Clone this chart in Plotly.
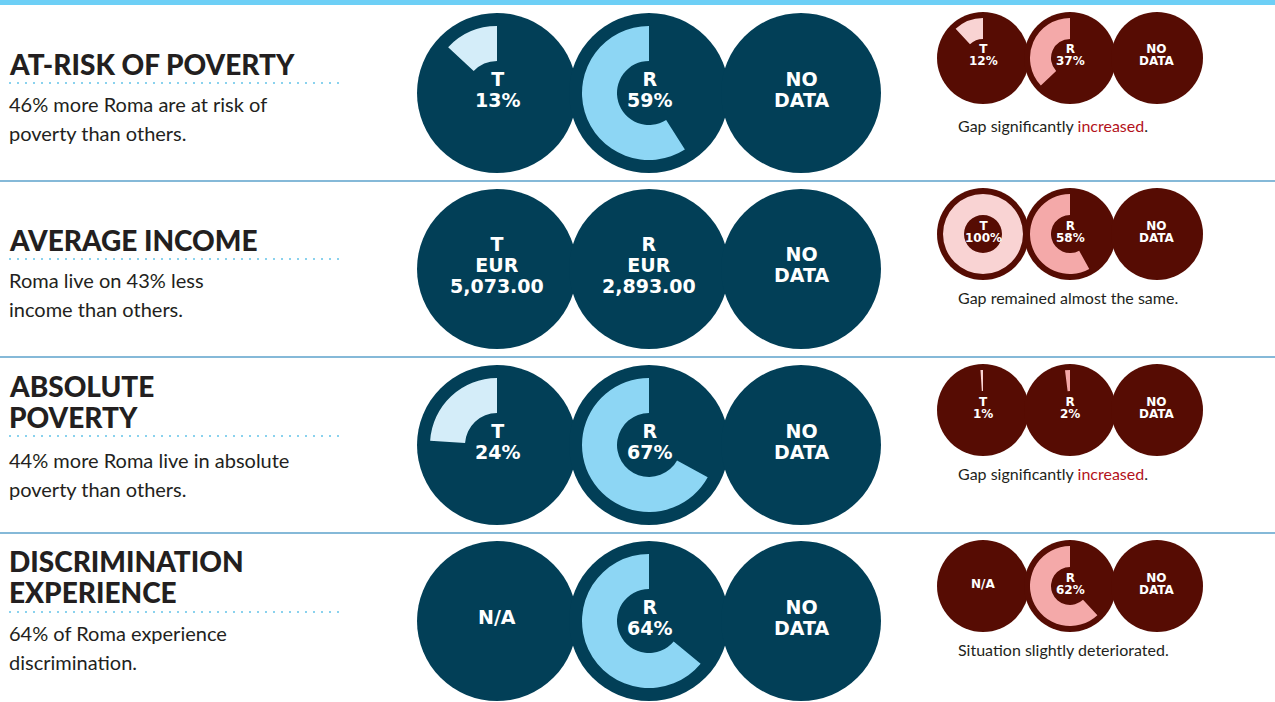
import plotly.graph_objects as go

W, H = 1275, 702

# ---- content -------------------------------------------------------------
indicators = ["AT-RISK OF POVERTY", "AVERAGE INCOME", "ABSOLUTE\nPOVERTY",
              "DISCRIMINATION\nEXPERIENCE"]
descriptions = [
    "46% more Roma are at risk of\npoverty than others.",
    "Roma live on 43% less\nincome than others.",
    "44% more Roma live in absolute\npoverty than others.",
    "64% of Roma experience\ndiscrimination.",
]

# current situation: share (%) for total population (T) and Roma (R)
total_share = [13, None, 24, None]
roma_share = [59, None, 67, 64]
# average yearly income, EUR
total_income = [None, 5073.00, None, None]
roma_income = [None, 2893.00, None, None]

# trend panel: share (%) for T and R
trend_total = [12, 100, 1, None]
trend_roma = [37, 58, 2, 62]
# trend verdict: (plain text, highlighted word, closing text)
trend_notes = [
    ("Gap significantly ", "increased", "."),
    ("Gap remained almost the same.", "", ""),
    ("Gap significantly ", "increased", "."),
    ("Situation slightly deteriorated.", "", ""),
]

# ---- styling -------------------------------------------------------------
NAVY, SKY, ICE = "#023f57", "#8dd6f4", "#d4edf9"
MAROON, ROSE, BLUSH = "#560c03", "#f4a9a9", "#f9d3d3"
RED_TEXT, INK = "#b3121b", "#231f20"
TOPBAR, RULE, DOTS = "#6dcff6", "#85b9d8", "#8ad2ee"

ROW_STEP = 176
BIG = dict(xs=[497, 649, 801], y0=93, r=80, inner=32, outer=67,
           font=19, lh=21, shift=-4)
SMALL = dict(xs=[983, 1070, 1157], y0=58, r=46, inner=19, outer=40,
             font=12, lh=12, shift=-2.5)
TITLE_Y = [64, 240, 417, 592]      # centre of the last title line
DOTS_Y = [83, 259, 436, 612]
DESC_Y = [104, 280, 460, 633]
NOTE_Y = [125, 297, 473, 649]

TEXT_FONT = "Lato"
LABEL_FONT = "DejaVu Sans"
LINE_SPACING = 1.3                 # plotly's line height for <br> text

fig = go.Figure()
annotations = []
shapes = []
polar_count = [0]


def px_x(x):
    return x / W


def px_y(y):
    return 1 - y / H


def add_text(x, y, text, size, color=INK, weight="normal", family=TEXT_FONT,
             xanchor="left"):
    annotations.append(dict(
        x=px_x(x), y=px_y(y), xref="paper", yref="paper", text=text,
        showarrow=False, xanchor=xanchor, yanchor="middle",
        font=dict(family=family, size=size, color=color, weight=weight)))


def circle_label(share, income, letter):
    if share is not None:
        return [letter, f"{share}%"]
    if income is not None:
        return [letter, "EUR", f"{income:,.2f}"]
    return ["N/A"]


def add_circle(spec, cx, cy, bg, arc_color, share, lines):
    polar_count[0] += 1
    k = polar_count[0]
    name = "polar" if k == 1 else f"polar{k}"
    r = spec["r"]
    fig.layout[name] = dict(
        domain=dict(x=[px_x(cx - r), px_x(cx + r)],
                    y=[px_y(cy + r), px_y(cy - r)]),
        bgcolor=bg,
        angularaxis=dict(visible=False, rotation=90,
                         direction="counterclockwise", showgrid=False,
                         showline=False, showticklabels=False, ticks=""),
        radialaxis=dict(visible=False, range=[0, r], showgrid=False,
                        showline=False, showticklabels=False, ticks=""),
    )
    value = share if share is not None else 0
    fig.add_trace(go.Barpolar(
        r=[spec["outer"] - spec["inner"]], base=[spec["inner"]],
        theta=[value * 3.6 / 2], width=[value * 3.6],
        marker=dict(color=arc_color, line=dict(width=0)),
        subplot=name, hoverinfo="skip", showlegend=False))
    # one multi-line label; the base size sets the tight line pitch,
    # the span sets the glyph size
    base_size = spec["lh"] / LINE_SPACING
    body = "<br>".join(
        f'<span style="font-size:{spec["font"]}px">{t}</span>' for t in lines)
    add_text(cx, cy + spec["shift"], body, base_size, color="white",
             weight="bold", family=LABEL_FONT, xanchor="center")


for row in range(4):
    base = row * ROW_STEP
    # left column: indicator title, dotted rule, description
    title_lines = indicators[row].split("\n")
    for j, t in enumerate(reversed(title_lines)):
        add_text(7, TITLE_Y[row] - j * 31, t, 28, weight=900)
    shapes.append(dict(type="line", xref="paper", yref="paper",
                       x0=px_x(9), x1=px_x(342), y0=px_y(DOTS_Y[row]),
                       y1=px_y(DOTS_Y[row]),
                       line=dict(color=DOTS, width=2, dash="2px,6px")))
    for j, t in enumerate(descriptions[row].split("\n")):
        add_text(7, DESC_Y[row] + j * 29, t, 20)

    # current situation circles
    by = BIG["y0"] + base
    add_circle(BIG, BIG["xs"][0], by, NAVY, ICE, total_share[row],
               circle_label(total_share[row], total_income[row], "T"))
    add_circle(BIG, BIG["xs"][1], by, NAVY, SKY, roma_share[row],
               circle_label(roma_share[row], roma_income[row], "R"))
    add_circle(BIG, BIG["xs"][2], by, NAVY, SKY, None, ["NO", "DATA"])

    # trend circles
    sy = SMALL["y0"] + base
    add_circle(SMALL, SMALL["xs"][0], sy, MAROON, BLUSH, trend_total[row],
               circle_label(trend_total[row], None, "T"))
    add_circle(SMALL, SMALL["xs"][1], sy, MAROON, ROSE, trend_roma[row],
               circle_label(trend_roma[row], None, "R"))
    add_circle(SMALL, SMALL["xs"][2], sy, MAROON, ROSE, None, ["NO", "DATA"])

    plain, hi, tail = trend_notes[row]
    note = plain + (f'<span style="color:{RED_TEXT}">{hi}</span>' if hi else "") + tail
    add_text(956, NOTE_Y[row], note, 16)

    # row separator
    if row < 3:
        sep = 181 + row * ROW_STEP
        shapes.append(dict(type="line", xref="paper", yref="paper",
                           x0=0, x1=1, y0=px_y(sep), y1=px_y(sep),
                           line=dict(color=RULE, width=2)))

# top accent bar
shapes.append(dict(type="rect", xref="paper", yref="paper", x0=0, x1=1,
                   y0=px_y(5), y1=1, fillcolor=TOPBAR, line=dict(width=0)))

fig.update_layout(
    width=W, height=H, margin=dict(l=0, r=0, t=0, b=0),
    paper_bgcolor="white", plot_bgcolor="white",
    annotations=annotations, shapes=shapes, showlegend=False,
)

fig.write_html("out.html")
